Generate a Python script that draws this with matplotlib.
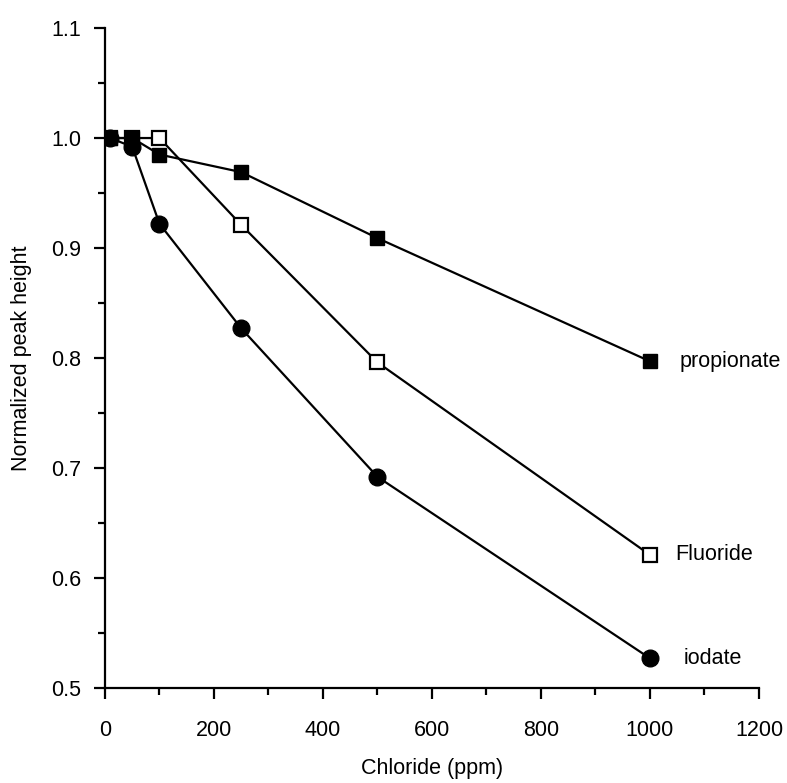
import matplotlib.pyplot as plt
from matplotlib.ticker import MultipleLocator

plt.rcParams['font.family'] = ['Liberation Sans', 'DejaVu Sans']

# data
chloride = [10, 50, 100, 250, 500, 1000]
propionate = [1.0, 1.0, 0.985, 0.969, 0.909, 0.797]
fluoride = [1.0, 1.0, 1.0, 0.921, 0.796, 0.621]
iodate = [1.0, 0.992, 0.922, 0.827, 0.692, 0.527]

fig = plt.figure(figsize=(7.87, 7.83), dpi=100)
ax = fig.add_axes([0.1334, 0.1213, 0.831, 0.8429])

# iodate drawn first so the squares sit on top, as in the original
ax.plot(chloride, iodate, color='black', lw=1.6, marker='o', ms=12,
        mfc='black', mec='black', zorder=2)
ax.plot(chloride, fluoride, color='black', lw=1.6, marker='s', ms=9.5,
        mfc='white', mec='black', mew=1.6, zorder=3)
ax.plot(chloride, propionate, color='black', lw=1.6, marker='s', ms=10.5,
        mfc='black', mec='black', zorder=4)

fs = 15.5
ax.annotate('propionate', (chloride[-1], propionate[-1]), xytext=(21, 0),
            textcoords='offset points', va='center', ha='left', fontsize=fs)
ax.annotate('Fluoride', (chloride[-1], fluoride[-1]), xytext=(18, 0),
            textcoords='offset points', va='center', ha='left', fontsize=fs)
ax.annotate('iodate', (chloride[-1], iodate[-1]), xytext=(24, 0),
            textcoords='offset points', va='center', ha='left', fontsize=fs)

ax.set_xlim(0, 1200)
ax.set_ylim(0.5, 1.1)
ax.xaxis.set_major_locator(MultipleLocator(200))
ax.xaxis.set_minor_locator(MultipleLocator(100))
ax.yaxis.set_major_locator(MultipleLocator(0.1))
ax.yaxis.set_minor_locator(MultipleLocator(0.05))
ax.yaxis.set_major_formatter(plt.FormatStrFormatter('%.1f'))

ax.spines['top'].set_visible(False)
ax.spines['right'].set_visible(False)
ax.spines['left'].set_linewidth(1.6)
ax.spines['bottom'].set_linewidth(1.6)

ax.tick_params(which='major', direction='out', length=8, width=1.6, labelsize=fs)
ax.tick_params(which='minor', direction='out', length=5, width=1.6)
ax.tick_params(axis='x', which='major', pad=15)
ax.tick_params(axis='y', which='major', pad=9)

ax.set_xlabel('Chloride (ppm)', fontsize=fs, labelpad=12)
ax.set_ylabel('Normalized peak height', fontsize=fs, labelpad=14)

plt.savefig('out.png', dpi=100)
